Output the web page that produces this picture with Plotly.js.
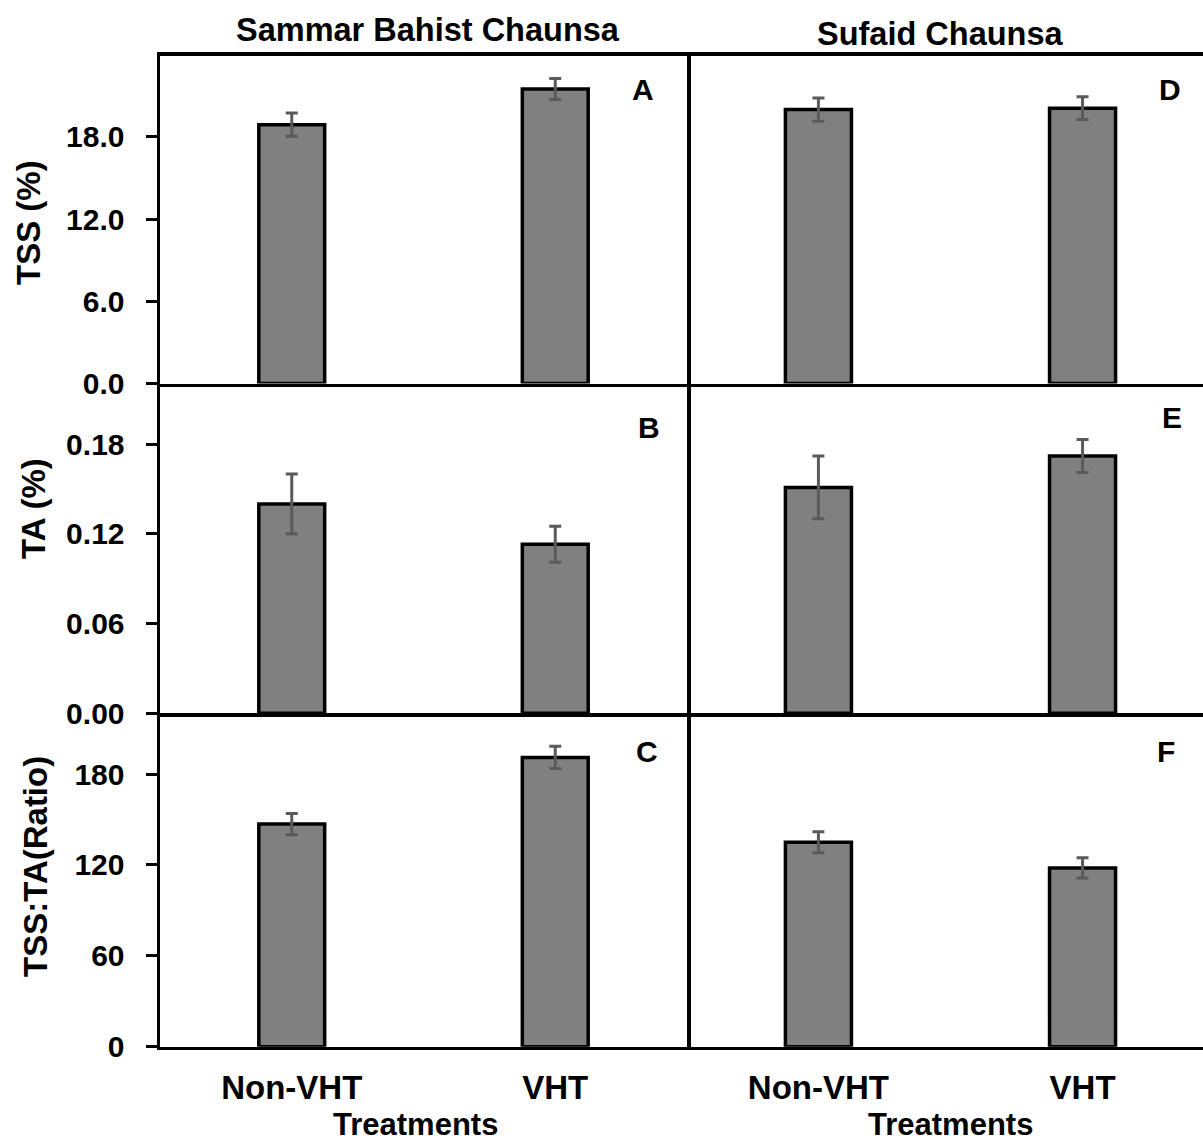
<!DOCTYPE html>
<html>
<head>
<meta charset="utf-8">
<script src="https://cdn.plot.ly/plotly-3.0.1.min.js"></script>
<style>html,body{margin:0;padding:0;background:#fff;overflow:hidden}</style>
</head>
<body>
<div id="chart" style="width:1203px;height:1144px"></div>
<script>
// ---- data ----
const treatments = ['Non-VHT', 'VHT'];
const cultivars = ['Sammar Bahist Chaunsa', 'Sufaid Chaunsa'];
const panelLetters = ['A', 'D', 'B', 'E', 'C', 'F'];
const yTitles = ['TSS (%)', 'TA (%)', 'TSS:TA(Ratio)'];
const xTitle = 'Treatments';

const tssSammar = [18.9, 21.5];
const tssSammarErr = [0.85, 0.77];
const tssSufaid = [20.0, 20.1];
const tssSufaidErr = [0.85, 0.83];

const taSammar = [0.140, 0.113];
const taSammarErr = [0.020, 0.012];
const taSufaid = [0.151, 0.172];
const taSufaidErr = [0.021, 0.011];

const ratioSammar = [147, 191];
const ratioSammarErr = [7, 7.3];
const ratioSufaid = [135, 118];
const ratioSufaidErr = [7, 6.7];

const yTickStep = [6, 0.06, 60];
const yTickFormat = ['.1f', '.2f', 'd'];
const yMax = [23.95, 0.219, 219];

// ---- layout constants ----
const W = 1203, H = 1144;
const FONT = 'Liberation Sans, Arial, Helvetica, sans-serif';
const cols = [[160, 687], [689, 1203]];
const colRanges = [[-0.5, 1.5], [-0.49, 1.456]];
const rows = [[55.5, 383.5], [385.7, 713.3], [715, 1046.7]];
const px = x => x / W;
const py = y => 1 - y / H;

const series = [
  [tssSammar, tssSammarErr], [tssSufaid, tssSufaidErr],
  [taSammar, taSammarErr], [taSufaid, taSufaidErr],
  [ratioSammar, ratioSammarErr], [ratioSufaid, ratioSufaidErr]
];

const traces = [];
const layout = {
  width: W, height: H,
  margin: {l: 0, r: 0, t: 0, b: 0},
  paper_bgcolor: '#fff', plot_bgcolor: '#fff',
  showlegend: false,
  font: {family: FONT, color: '#000', weight: 'bold'},
  annotations: []
};

for (let r = 0; r < 3; r++) {
  for (let c = 0; c < 2; c++) {
    const i = r * 2 + c;
    const n = i + 1;
    const xa = 'x' + (n === 1 ? '' : n);
    const ya = 'y' + (n === 1 ? '' : n);
    const [vals, errs] = series[i];
    traces.push({
      type: 'bar', x: treatments, y: vals, xaxis: xa, yaxis: ya,
      width: 0.25,
      marker: {color: '#808080', line: {color: '#000', width: 3.5}},
      error_y: {type: 'data', array: errs, visible: true, color: '#5a5a5a', thickness: 3, width: 6},
      hoverinfo: 'skip'
    });
    const xKey = 'xaxis' + (n === 1 ? '' : n);
    const yKey = 'yaxis' + (n === 1 ? '' : n);
    layout[xKey] = {
      domain: [px(cols[c][0]), px(cols[c][1])],
      anchor: ya, type: 'category', range: colRanges[c],
      showline: true, linecolor: '#000', linewidth: 3.5,
      mirror: r === 0 ? true : false,
      showgrid: false, zeroline: false, ticks: '',
      showticklabels: r === 2,
      tickfont: {family: FONT, size: 33, color: '#000', weight: 'bold'},
      ticklabelstandoff: 9,
      fixedrange: true
    };
    layout[yKey] = {
      domain: [py(rows[r][1]), py(rows[r][0])],
      anchor: xa, range: [0, yMax[r]],
      showline: c === 0, linecolor: '#000', linewidth: 3.5,
      mirror: c === 0 ? true : false,
      showgrid: false, zeroline: false,
      ticks: c === 0 ? 'outside' : '', ticklen: 11, tickwidth: 3, tickcolor: '#000',
      tickmode: 'linear', tick0: 0, dtick: yTickStep[r], tickformat: yTickFormat[r],
      showticklabels: c === 0,
      tickfont: {family: FONT, size: 30, color: '#000', weight: 'bold'},
      ticklabelstandoff: 15,
      fixedrange: true
    };
  }
}

// panel letters
const letterPos = [[643, 89], [1170, 89], [649, 427], [1172, 417], [647, 752], [1166, 752]];
panelLetters.forEach((t, i) => {
  layout.annotations.push({
    text: t, xref: 'paper', yref: 'paper', x: px(letterPos[i][0]), y: py(letterPos[i][1]),
    xanchor: 'center', yanchor: 'middle', showarrow: false,
    font: {family: FONT, size: 30, color: '#000', weight: 'bold'}
  });
});

// column titles
const colTitlePos = [[428, 30], [940, 34]];
cultivars.forEach((t, i) => {
  layout.annotations.push({
    text: t, xref: 'paper', yref: 'paper', x: px(colTitlePos[i][0]), y: py(colTitlePos[i][1]),
    xanchor: 'center', yanchor: 'middle', showarrow: false,
    font: {family: FONT, size: 32.5, color: '#000', weight: 'bold'}
  });
});

// y titles
const yTitlePos = [[29, 223], [33, 509], [35, 867]];
yTitles.forEach((t, i) => {
  layout.annotations.push({
    text: t, xref: 'paper', yref: 'paper', x: px(yTitlePos[i][0]), y: py(yTitlePos[i][1]),
    xanchor: 'center', yanchor: 'middle', textangle: -90, showarrow: false,
    font: {family: FONT, size: 33, color: '#000', weight: 'bold'}
  });
});

// x titles
const xTitlePos = [[415, 1124], [950, 1124]];
xTitlePos.forEach(p => {
  layout.annotations.push({
    text: xTitle, xref: 'paper', yref: 'paper', x: px(p[0]), y: py(p[1]),
    xanchor: 'center', yanchor: 'middle', showarrow: false,
    font: {family: FONT, size: 31, color: '#000', weight: 'bold'}
  });
});

Plotly.newPlot('chart', traces, layout, {staticPlot: true, displayModeBar: false});
</script>
</body>
</html>
